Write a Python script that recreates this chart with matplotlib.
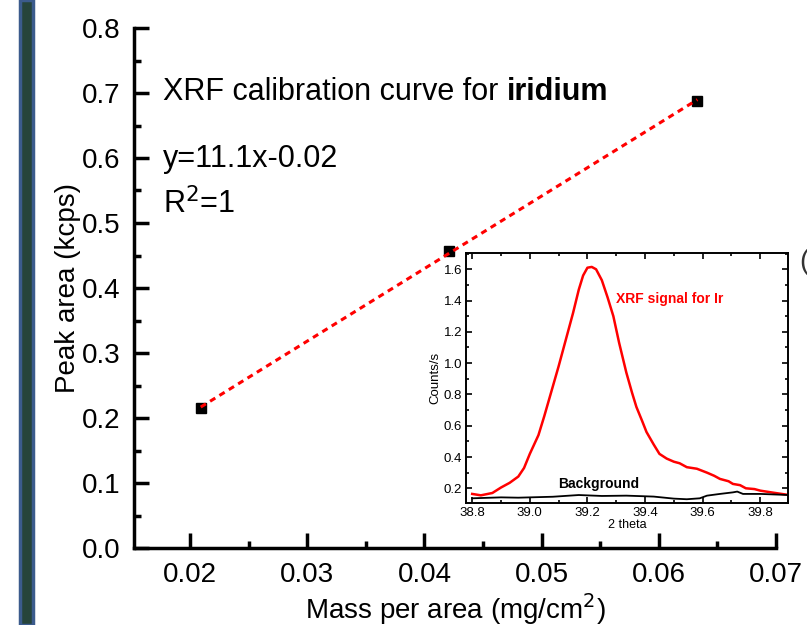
import numpy as np
import matplotlib
matplotlib.use("Agg")
from matplotlib import pyplot as plt
from matplotlib.patches import Rectangle
from matplotlib.ticker import MultipleLocator

plt.rcParams['font.family'] = ['Liberation Sans', 'DejaVu Sans']

# calibration points (mass per area, peak area)
mass = [0.0209, 0.0421, 0.0633]
peak = [0.215, 0.457, 0.688]

# inset spectra (2 theta vs counts/s)
theta_sig = [38.80, 38.83, 38.87, 38.90, 38.93, 38.96, 38.98, 39.00, 39.03,
             39.05, 39.075, 39.10, 39.125, 39.15, 39.17, 39.185, 39.20,
             39.215, 39.23, 39.25, 39.27, 39.29, 39.31, 39.335, 39.355,
             39.37, 39.39, 39.405, 39.43, 39.45, 39.475, 39.50, 39.52,
             39.545, 39.58, 39.615, 39.64, 39.66, 39.69, 39.705, 39.73,
             39.75, 39.78, 39.80, 39.845, 39.90]
counts_sig = [0.164, 0.155, 0.17, 0.205, 0.235, 0.275, 0.33, 0.42, 0.54,
              0.66, 0.82, 0.98, 1.15, 1.32, 1.47, 1.56, 1.61,
              1.615, 1.60, 1.53, 1.42, 1.30, 1.13, 0.94, 0.81,
              0.72, 0.63, 0.56, 0.48, 0.42, 0.39, 0.37, 0.36,
              0.335, 0.325, 0.30, 0.28, 0.26, 0.245, 0.228, 0.22,
              0.20, 0.195, 0.185, 0.172, 0.157]
theta_bg = [38.80, 38.90, 38.96, 39.08, 39.17, 39.25, 39.335, 39.43, 39.50,
            39.545, 39.59, 39.615, 39.66, 39.705, 39.72, 39.74, 39.80, 39.90]
counts_bg = [0.136, 0.142, 0.140, 0.146, 0.157, 0.151, 0.153, 0.147, 0.134,
             0.130, 0.136, 0.153, 0.164, 0.174, 0.179, 0.164, 0.164, 0.157]

fig = plt.figure(figsize=(8.07, 6.25), dpi=100)

# dark slide border on the left
fig.patches.append(Rectangle((20 / 807, 0), 13 / 807, 1, transform=fig.transFigure,
                             facecolor='#26443a', edgecolor='#3b5b8c', lw=2.5,
                             zorder=0))

ax = fig.add_axes([0.166, 0.1232, 0.7955, 0.832])
ax.set_xlim(0.0152, 0.07)
ax.set_ylim(0, 0.8)

slope, icept = np.polyfit(mass, peak, 1)
xs = np.array([mass[0], mass[-1]])
ax.plot(mass, peak, 's', color='black', ms=7.5, zorder=3)
ax.plot(xs, slope * xs + icept, color='red', lw=2.2, ls=(0, (2, 1.6)), zorder=4)

for s in ['top', 'right']:
    ax.spines[s].set_visible(False)
for s in ['left', 'bottom']:
    ax.spines[s].set_linewidth(2.5)
ax.xaxis.set_major_locator(MultipleLocator(0.01))
ax.xaxis.set_minor_locator(MultipleLocator(0.005))
ax.yaxis.set_major_locator(MultipleLocator(0.1))
ax.yaxis.set_minor_locator(MultipleLocator(0.05))
ax.tick_params(which='both', direction='in', width=2.5, labelsize=20, pad=10)
ax.tick_params(which='major', length=11)
ax.tick_params(which='minor', length=5)
ax.yaxis.set_major_formatter(plt.FormatStrFormatter('%.1f'))
ax.xaxis.set_major_formatter(plt.FormatStrFormatter('%.2f'))
ax.set_xlabel('Mass per area (mg/cm$^2$)', fontsize=20, labelpad=2)
ax.set_ylabel('Peak area (kcps)', fontsize=20, labelpad=0)

ax.text(163, 625 - 100, 'XRF calibration curve for ', transform=None,
        fontsize=22, va='baseline')
t = ax.text(163, 625 - 100, 'XRF calibration curve for ', transform=None,
            fontsize=22, va='baseline', alpha=0)
fig.canvas.draw()
bb = t.get_window_extent()
ax.text(bb.x1, 625 - 100, 'iridium', transform=None, fontsize=22,
        fontweight='bold', va='baseline')
ax.text(163, 625 - 167, 'y=11.1x-0.02', transform=None, fontsize=22, va='baseline')
ax.text(163, 625 - 213, 'R$^2$=1', transform=None, fontsize=22, va='baseline')

fig.text(0.99, 1 - 262 / 625, '(', fontsize=20, color='#333333', va='center')

# inset spectrum
ins = fig.add_axes([0.578, 0.1952, 0.398, 0.4])
ins.plot(theta_sig, counts_sig, color='red', lw=1.8)
ins.plot(theta_bg, counts_bg, color='black', lw=1.3)
ins.set_xlim(38.78, 39.895)
ins.set_ylim(0.106, 1.704)
ins.xaxis.set_major_locator(MultipleLocator(0.2))
ins.xaxis.set_minor_locator(MultipleLocator(0.1))
ins.yaxis.set_major_locator(MultipleLocator(0.2))
ins.yaxis.set_minor_locator(MultipleLocator(0.1))
ins.xaxis.set_major_formatter(plt.FormatStrFormatter('%.1f'))
ins.yaxis.set_major_formatter(plt.FormatStrFormatter('%.1f'))
for s in ins.spines.values():
    s.set_linewidth(1.4)
ins.tick_params(which='both', direction='in', top=True, right=True,
                width=1.2, labelsize=9.5, pad=3)
ins.tick_params(which='major', length=4)
ins.tick_params(which='minor', length=2)
ins.set_xlabel('2 theta', fontsize=9, labelpad=0)
ins.set_ylabel('Counts/s', fontsize=9.5, labelpad=2)
ins.text(39.3, 1.41, 'XRF signal for Ir', color='red', fontsize=10,
         fontweight='bold', va='center')
ins.text(39.1, 0.225, 'Background', color='black', fontsize=10,
         fontweight='bold', va='center')

fig.savefig('out.png', dpi=100)
